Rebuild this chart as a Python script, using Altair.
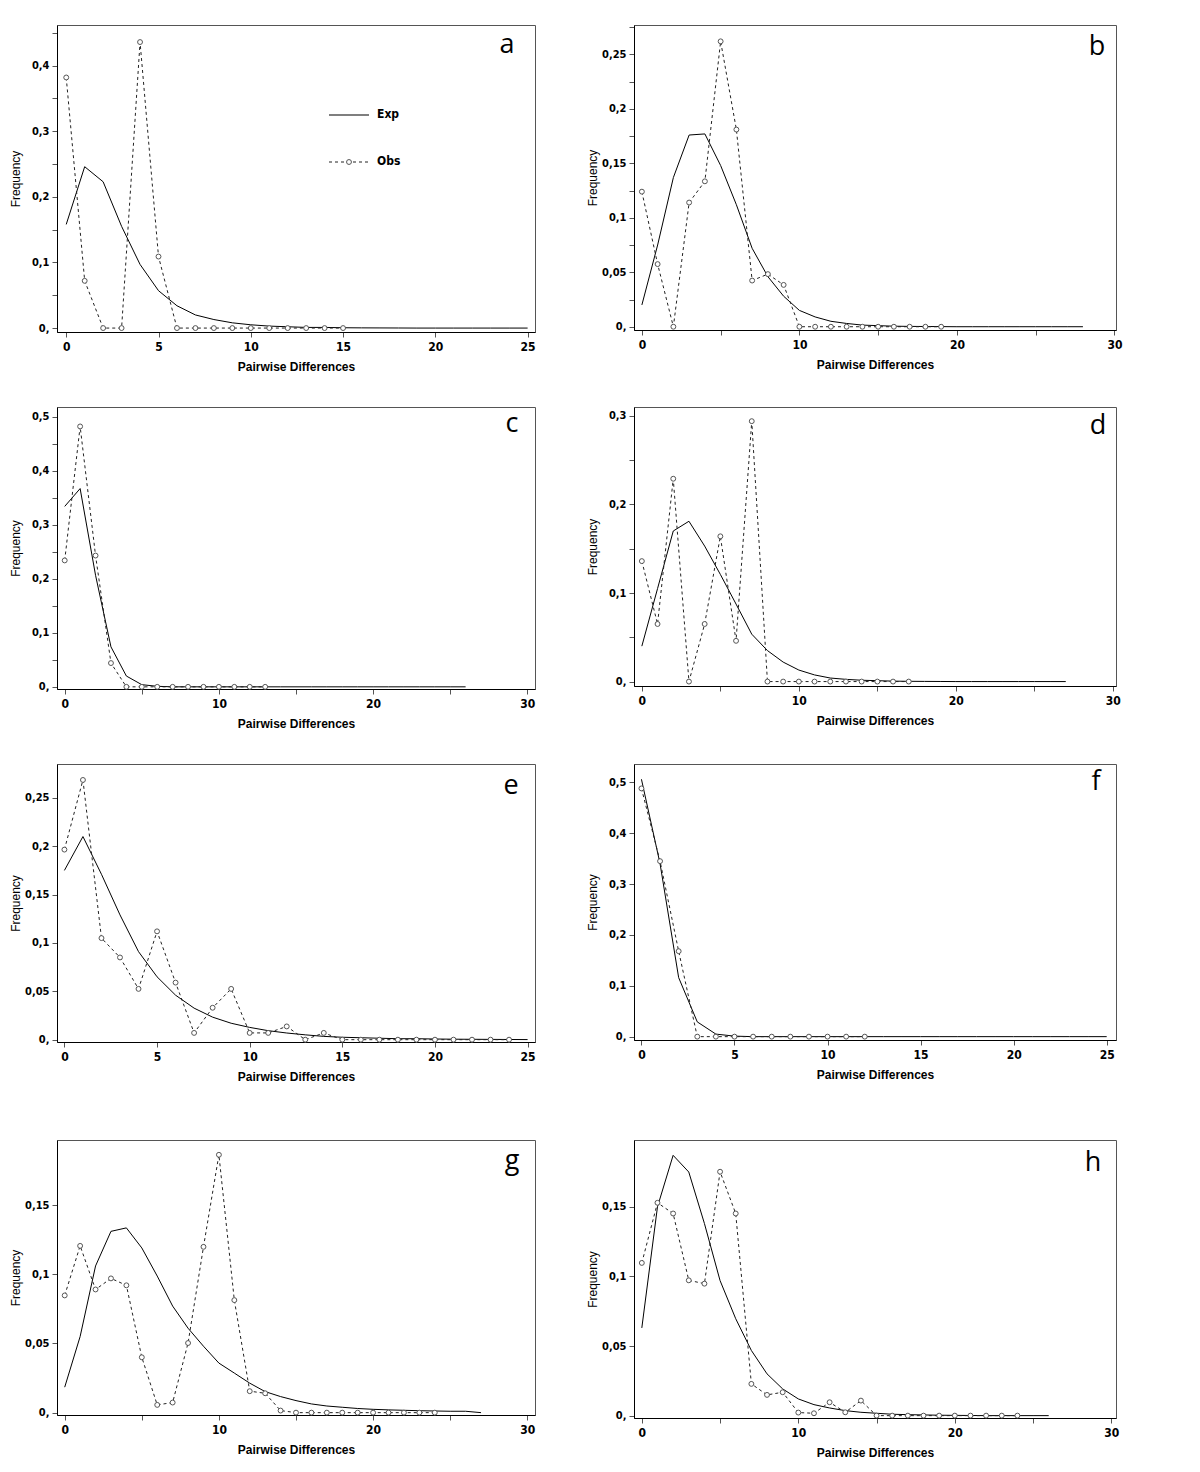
import altair as alt
import pandas as pd

# ---------------- data ----------------
exp_a = [0.158, 0.246, 0.223, 0.155, 0.097, 0.057, 0.034, 0.020, 0.013, 0.008,
         0.005, 0.003, 0.002, 0.001, 0.001, 0.0005, 0.0003, 0.0002, 0.0001, 0.0,
         0.0, 0.0, 0.0, 0.0, 0.0, 0.0]
obs_a = [0.382, 0.072, 0.0, 0.0, 0.436, 0.109, 0.0, 0.0, 0.0, 0.0,
         0.0, 0.0, 0.0, 0.0, 0.0, 0.0]

exp_b = [0.020, 0.075, 0.137, 0.176, 0.177, 0.148, 0.112, 0.072, 0.046, 0.028,
         0.015, 0.009, 0.005, 0.003, 0.0015, 0.001, 0.0005, 0.0003, 0.0002, 0.0001,
         0.0, 0.0, 0.0, 0.0, 0.0, 0.0, 0.0, 0.0, 0.0]
obs_b = [0.124, 0.0575, 0.0, 0.114, 0.1335, 0.262, 0.181, 0.0424, 0.0483, 0.0384,
         0.0, 0.0, 0.0, 0.0, 0.0, 0.0, 0.0, 0.0, 0.0, 0.0]

exp_c = [0.334, 0.367, 0.2065, 0.074, 0.020, 0.004, 0.001, 0.0, 0.0, 0.0,
         0.0, 0.0, 0.0, 0.0, 0.0, 0.0, 0.0, 0.0, 0.0, 0.0,
         0.0, 0.0, 0.0, 0.0, 0.0, 0.0, 0.0]
obs_c = [0.234, 0.482, 0.243, 0.044, 0.0, 0.0, 0.0, 0.0, 0.0, 0.0,
         0.0, 0.0, 0.0, 0.0]

exp_d = [0.040, 0.105, 0.170, 0.181, 0.153, 0.121, 0.0875, 0.0535, 0.035, 0.022,
         0.013, 0.0075, 0.004, 0.0025, 0.0015, 0.001, 0.0005, 0.0003, 0.0002, 0.0001,
         0.0, 0.0, 0.0, 0.0, 0.0, 0.0, 0.0, 0.0]
obs_d = [0.136, 0.065, 0.229, 0.0, 0.065, 0.164, 0.046, 0.294, 0.0, 0.0,
         0.0, 0.0, 0.0, 0.0, 0.0, 0.0, 0.0, 0.0]

exp_e = [0.175, 0.210, 0.171, 0.129, 0.091, 0.065, 0.046, 0.0326, 0.0233, 0.017,
         0.0127, 0.0093, 0.0069, 0.005, 0.0034, 0.0025, 0.002, 0.0015, 0.001, 0.001,
         0.0007, 0.0005, 0.0004, 0.0003, 0.0002, 0.0001]
obs_e = [0.1965, 0.2685, 0.105, 0.085, 0.0525, 0.112, 0.059, 0.007, 0.033, 0.0525,
         0.007, 0.007, 0.0137, 0.0, 0.007, 0.0, 0.0, 0.0, 0.0, 0.0,
         0.0, 0.0, 0.0, 0.0, 0.0]

exp_f = [0.506, 0.340, 0.116, 0.029, 0.005, 0.001, 0.0, 0.0, 0.0, 0.0,
         0.0, 0.0, 0.0, 0.0, 0.0, 0.0, 0.0, 0.0, 0.0, 0.0,
         0.0, 0.0, 0.0, 0.0, 0.0, 0.0]
obs_f = [0.488, 0.345, 0.168, 0.0, 0.0, 0.0, 0.0, 0.0, 0.0, 0.0,
         0.0, 0.0, 0.0]

exp_g = [0.0184, 0.055, 0.106, 0.131, 0.1335, 0.119, 0.0987, 0.077, 0.061, 0.048,
         0.0358, 0.0286, 0.0213, 0.0152, 0.0116, 0.0087, 0.0063, 0.0048, 0.0039, 0.003,
         0.0024, 0.002, 0.0017, 0.0014, 0.0012, 0.001, 0.001, 0.0]
obs_g = [0.0847, 0.1205, 0.089, 0.097, 0.092, 0.040, 0.0056, 0.0073, 0.0503, 0.1198,
         0.1863, 0.0813, 0.0155, 0.014, 0.0015, 0.0, 0.0, 0.0, 0.0, 0.0,
         0.0, 0.0, 0.0, 0.0, 0.0]

exp_h = [0.063, 0.150, 0.187, 0.175, 0.138, 0.097, 0.0696, 0.0468, 0.030, 0.0192,
         0.012, 0.0079, 0.0055, 0.0036, 0.0024, 0.0017, 0.001, 0.0007, 0.0005, 0.0003,
         0.0002, 0.0001, 0.0, 0.0, 0.0, 0.0, 0.0]
obs_h = [0.1097, 0.1529, 0.1452, 0.0972, 0.0948, 0.1752, 0.1452, 0.0228, 0.0149, 0.0168,
         0.0022, 0.0017, 0.0096, 0.0024, 0.0108, 0.0, 0.0, 0.0, 0.0, 0.0,
         0.0, 0.0, 0.0, 0.0, 0.0]

legend_labels = ["Exp", "Obs"]
x_title = "Pairwise Differences"
y_title = "Frequency"


def steps(step, n):
    return [round(i * step, 4) for i in range(n)]


x25 = list(range(0, 26, 5))
x30 = list(range(0, 31, 5))

specs = {
    "a": dict(exp=exp_a, obs=obs_a, xdom=[-0.5, 25.4], ydom=[-0.006, 0.462],
              xt=x25, xmaj=5, yt=steps(0.05, 10), ymaj=steps(0.1, 5), lx=28, ly=20),
    "b": dict(exp=exp_b, obs=obs_b, xdom=[-0.5, 30.1], ydom=[-0.003, 0.277],
              xt=x30, xmaj=10, yt=steps(0.025, 12), ymaj=steps(0.05, 6), lx=19, ly=22),
    "c": dict(exp=exp_c, obs=obs_c, xdom=[-0.5, 30.5], ydom=[-0.004, 0.518],
              xt=x30, xmaj=10, yt=steps(0.05, 11), ymaj=steps(0.1, 6), lx=23, ly=17),
    "d": dict(exp=exp_d, obs=obs_d, xdom=[-0.5, 30.2], ydom=[-0.005, 0.31],
              xt=x30, xmaj=10, yt=steps(0.05, 7), ymaj=steps(0.1, 4), lx=18, ly=19),
    "e": dict(exp=exp_e, obs=obs_e, xdom=[-0.4, 25.4], ydom=[-0.0024, 0.285],
              xt=x25, xmaj=5, yt=steps(0.05, 6), ymaj=steps(0.05, 6), lx=24, ly=22),
    "f": dict(exp=exp_f, obs=obs_f, xdom=[-0.4, 25.5], ydom=[-0.0066, 0.536],
              xt=x25, xmaj=5, yt=steps(0.1, 6), ymaj=steps(0.1, 6), lx=20, ly=18),
    "g": dict(exp=exp_g, obs=obs_g, xdom=[-0.5, 30.5], ydom=[-0.0017, 0.197],
              xt=x30, xmaj=10, yt=steps(0.05, 4), ymaj=steps(0.05, 4), lx=23, ly=21),
    "h": dict(exp=exp_h, obs=obs_h, xdom=[-0.5, 30.3], ydom=[-0.0017, 0.198],
              xt=x30, xmaj=10, yt=steps(0.05, 4), ymaj=steps(0.05, 4), lx=23, ly=23),
}

TICK_FONT = "Liberation Sans Narrow, DejaVu Sans Condensed, Arial Narrow, sans-serif"


def panel(key, w, h, legend=False):
    s = specs[key]
    exp_df = pd.DataFrame({"x": list(range(len(s["exp"]))), "y": s["exp"]})
    obs_df = pd.DataFrame({"x": list(range(len(s["obs"]))), "y": s["obs"]})
    xax = alt.Axis(values=s["xt"], title=x_title,
                   labelExpr=f"datum.value % {s['xmaj']} == 0 ? datum.label : ''")
    ymaj = str(s["ymaj"])
    yax = alt.Axis(values=s["yt"], title=y_title,
                   labelExpr=(f"indexof({ymaj}, datum.value) < 0 ? '' : "
                              "(datum.value == 0 ? '0,' : "
                              "replace(format(datum.value, '.3~f'), '.', ','))"))
    X = alt.X("x:Q", scale=alt.Scale(domain=s["xdom"], nice=False, zero=False), axis=xax)
    Y = alt.Y("y:Q", scale=alt.Scale(domain=s["ydom"], nice=False, zero=False), axis=yax)

    exp_line = alt.Chart(exp_df).mark_line(color="black", strokeWidth=1).encode(x=X, y=Y)
    obs_line = alt.Chart(obs_df).mark_line(color="#222", strokeWidth=1,
                                           strokeDash=[3, 3]).encode(x=X, y=Y)
    obs_pts = alt.Chart(obs_df).mark_point(shape="circle", filled=True, fill="white",
                                           stroke="#555", strokeWidth=1, size=24,
                                           opacity=1).encode(x=X, y=Y)
    letter = alt.Chart(pd.DataFrame({"t": [key]})).mark_text(
        fontSize=27, font="Open Sans", align="center", baseline="middle", color="black"
    ).encode(text="t:N", x=alt.value(w - s["lx"]), y=alt.value(s["ly"]))
    layers = [exp_line, obs_line, obs_pts, letter]

    if legend:
        one = pd.DataFrame({"k": [0]})
        r1 = alt.Chart(one).mark_rule(color="black", strokeWidth=1.1).encode(
            x=alt.value(272), x2=alt.value(312), y=alt.value(90))
        r2 = alt.Chart(one).mark_rule(color="#222", strokeWidth=1, strokeDash=[3, 3]).encode(
            x=alt.value(272), x2=alt.value(313), y=alt.value(137))
        p2 = alt.Chart(one).mark_point(shape="circle", filled=True, fill="white",
                                       stroke="#555", strokeWidth=1, size=24,
                                       opacity=1).encode(x=alt.value(292), y=alt.value(137))
        t1 = alt.Chart(one).mark_text(align="left", baseline="middle", fontSize=12,
                                      fontWeight="bold", font=TICK_FONT).encode(
            text=alt.value(legend_labels[0]), x=alt.value(320), y=alt.value(89))
        t2 = alt.Chart(one).mark_text(align="left", baseline="middle", fontSize=12,
                                      fontWeight="bold", font=TICK_FONT).encode(
            text=alt.value(legend_labels[1]), x=alt.value(320), y=alt.value(136))
        layers += [r1, r2, p2, t1, t2]

    return alt.layer(*layers).properties(width=w, height=h)


row1 = alt.hconcat(panel("a", 478, 307, legend=True), panel("b", 482, 305), spacing=49)
row2 = alt.hconcat(panel("c", 478, 282), panel("d", 482, 279), spacing=49)
row3 = alt.hconcat(panel("e", 478, 278), panel("f", 482, 276), spacing=49)
row4 = alt.hconcat(panel("g", 478, 275), panel("h", 482, 278), spacing=49)

top = alt.vconcat(row1, row2, row3, spacing=33)
chart = alt.vconcat(top, row4, spacing=56).properties(
    padding={"left": 0, "top": 16, "right": 0, "bottom": 0}
).configure_view(
    stroke="#555", strokeWidth=1
).configure_axis(
    grid=False, domainColor="black", domainWidth=1, tickColor="#555", tickSize=5,
    labelFont=TICK_FONT, labelFontWeight="bold", labelFontSize=11, labelColor="black",
    titleColor="black"
).configure_axisX(
    labelPadding=4, labelFontSize=12, titleFont="Liberation Sans", titleFontWeight="bold",
    titleFontSize=12, titlePadding=9
).configure_axisY(
    labelPadding=3, titleFont="Liberation Sans", titleFontWeight="normal",
    titleFontSize=12, minExtent=33, maxExtent=33, titlePadding=2
)

chart.save("out.html", embed_options={"renderer": "svg", "actions": False})
